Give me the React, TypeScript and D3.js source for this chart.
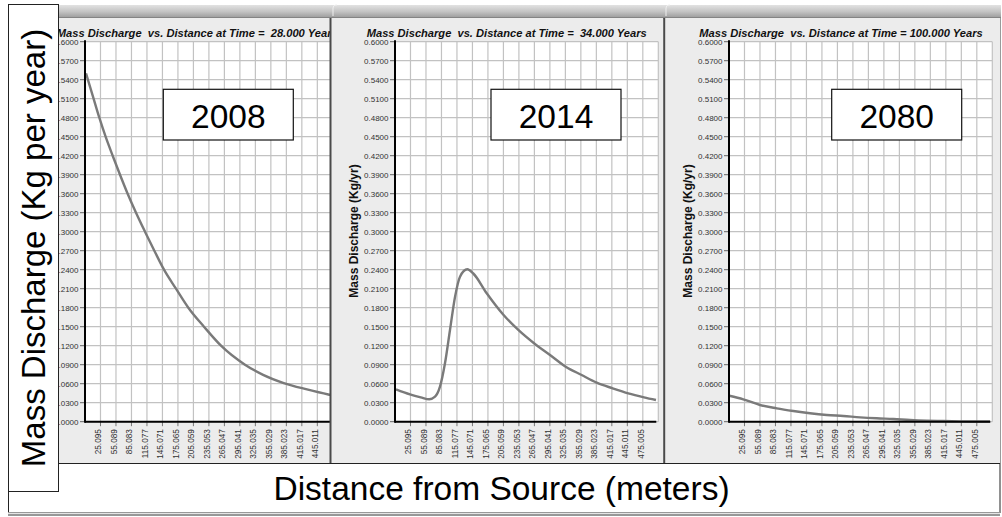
import React from "react";
import * as d3 from "d3";

// ---------- data ----------
const xTickValues = [25.095, 55.089, 85.083, 115.077, 145.071, 175.065, 205.059, 235.053, 265.047, 295.041, 325.035, 355.029, 385.023, 415.017, 445.011, 475.005];
const xTickLabels = ["25.095", "55.089", "85.083", "115.077", "145.071", "175.065", "205.059", "235.053", "265.047", "295.041", "325.035", "355.029", "385.023", "415.017", "445.011", "475.005"];
const yTickValues = [0, 0.03, 0.06, 0.09, 0.12, 0.15, 0.18, 0.21, 0.24, 0.27, 0.3, 0.33, 0.36, 0.39, 0.42, 0.45, 0.48, 0.51, 0.54, 0.57, 0.6];
const yTickLabels = ["0.0000", "0.0300", "0.0600", "0.0900", "0.1200", "0.1500", "0.1800", "0.2100", "0.2400", "0.2700", "0.3000", "0.3300", "0.3600", "0.3900", "0.4200", "0.4500", "0.4800", "0.5100", "0.5400", "0.5700", "0.6000"];

const years = ["2008", "2014", "2080"];
const panelTitles = [
  "Mass Discharge  vs. Distance at Time =  28.000 Years",
  "Mass Discharge  vs. Distance at Time =  34.000 Years",
  "Mass Discharge  vs. Distance at Time = 100.000 Years",
];
const yAxisTitle = "Mass Discharge (Kg/yr)";
const leftTitle = "Mass Discharge (Kg per year)";
const bottomTitle = "Distance from Source (meters)";

const dist2008 = [-3, 10, 22.85, 35, 48.7, 62.9, 77.7, 93.9, 111.3, 129.4, 148.1, 171.3, 195.2, 225.5, 258.5, 304.9, 340, 380, 425, 466.3, 505];
const mass2008 = [0.55, 0.515, 0.48, 0.45, 0.42, 0.39, 0.36, 0.33, 0.30, 0.27, 0.24, 0.21, 0.18, 0.15, 0.12, 0.09, 0.074, 0.061, 0.051, 0.043, 0.037];

const dist2014 = [-3, 24.1, 45, 61.5, 72.6, 82.2, 91.9, 101.6, 111.3, 121, 135.1, 146.7, 172.7, 203.7, 233.9, 264.3, 295.3, 325.7, 356.6, 385.7, 416.7, 446.9, 477.3, 500.5];
const mass2014 = [0.0511, 0.0432, 0.0385, 0.0354, 0.0395, 0.0553, 0.0922, 0.1448, 0.197, 0.229, 0.2406, 0.234, 0.2027, 0.17, 0.1448, 0.1238, 0.1053, 0.0868, 0.0737, 0.0616, 0.0527, 0.0448, 0.0385, 0.0343];

const dist2080 = [-4.3, 22.8, 55.1, 87.5, 119.6, 151.9, 184.3, 216.6, 248.9, 281.1, 313.5, 345.6, 378, 410.2, 442.5, 500.6];
const mass2080 = [0.041, 0.0353, 0.0264, 0.0211, 0.0169, 0.0133, 0.0106, 0.009, 0.0069, 0.0054, 0.0043, 0.0027, 0.0016, 0.001, 0.0005, 0.0002];

const seriesDist = [dist2008, dist2014, dist2080];
const seriesMass = [mass2008, mass2014, mass2080];

// ---------- layout ----------
const W = 1002;
const H = 517;
const FONT = "'Liberation Sans', Arial, Helvetica, sans-serif";
const plotTop = 41.7;
const plotBottom = 421.7;
const plotW = 263.3;
const xDomain: [number, number] = [-4.9, 505];
const yDomain: [number, number] = [0, 0.6];

const panels = [
  { x0: 58, x1: 330, axis: 85, titleX: 56.7, boxX: 163.3, yTitleX: 48, nLabels: 15 },
  { x0: 331, x1: 663.5, axis: 395, titleX: 366.7, boxX: 491, yTitleX: 358.2, nLabels: 16 },
  { x0: 665, x1: 1000, axis: 729, titleX: 699.3, boxX: 831.7, yTitleX: 692.2, nLabels: 16 },
];
const titleLen = [281, 280, 283.4];

function Panel({ idx }: { idx: number }) {
  const p = panels[idx];
  const x = d3.scaleLinear().domain(xDomain).range([p.axis, p.axis + plotW]);
  const y = d3.scaleLinear().domain(yDomain).range([plotBottom, plotTop]);
  const line = d3
    .line<number>()
    .x((_, i) => x(seriesDist[idx][i]))
    .y((v) => y(v))
    .curve(d3.curveMonotoneX);
  const path = line(seriesMass[idx]) || "";
  const gridX = [...xTickValues, xDomain[1]];
  return (
    <g clipPath={`url(#clipP${idx})`}>
      <rect x={p.x0} y={18} width={p.x1 - p.x0} height={445} fill="#ececec" />
      <text
        x={p.titleX}
        y={36.5}
        fontFamily={FONT}
        fontSize={11.6}
        fontWeight="bold"
        fontStyle="italic"
        fill="#111"
        textLength={titleLen[idx]}
        lengthAdjust="spacingAndGlyphs"
        style={{ whiteSpace: "pre" }}
      >
        {panelTitles[idx]}
      </text>
      <rect x={p.axis} y={plotTop} width={plotW} height={plotBottom - plotTop} fill="#ffffff" />
      {yTickValues.map((v, i) => (
        <line key={"gy" + i} x1={p.axis} x2={p.axis + plotW} y1={y(v)} y2={y(v)} stroke="#c2c2c2" strokeWidth={1.2} />
      ))}
      {gridX.map((v, i) => (
        <line key={"gx" + i} x1={x(v)} x2={x(v)} y1={plotTop} y2={plotBottom} stroke="#c2c2c2" strokeWidth={1.2} />
      ))}
      {yTickValues.map((v, i) => (
        <g key={"yt" + i}>
          <line x1={p.axis - 5} x2={p.axis} y1={y(v)} y2={y(v)} stroke="#666" strokeWidth={1} />
          <text
            x={p.axis - 6.5}
            y={y(v)}
            dy="0.35em"
            textAnchor="end"
            fontFamily={FONT}
            fontSize={8}
            fill="#333"
          >
            {yTickLabels[i]}
          </text>
        </g>
      ))}
      {xTickValues.map((v, i) => (
        <g key={"xt" + i}>
          <line x1={x(v)} x2={x(v)} y1={plotBottom} y2={plotBottom + 4.5} stroke="#777" strokeWidth={1} />
          {i < p.nLabels && (
            <text
              transform={`translate(${x(v) + 0.8},${plotBottom + 7.5}) rotate(-90)`}
              textAnchor="end"
              fontFamily={FONT}
              fontSize={8.2}
              fill="#333"
            >
              {xTickLabels[i]}
            </text>
          )}
        </g>
      ))}
      <text
        transform={`translate(${p.yTitleX},${231}) rotate(-90)`}
        textAnchor="middle"
        fontFamily={FONT}
        fontSize={12}
        fontWeight="bold"
        fill="#111"
      >
        {yAxisTitle}
      </text>
      <path d={path} fill="none" stroke="#7a7a7a" strokeWidth={2.4} strokeLinejoin="round" />
      <line x1={p.axis} x2={p.axis + plotW - 2} y1={plotBottom} y2={plotBottom} stroke="#000" strokeWidth={2} />
      <line x1={p.axis} x2={p.axis} y1={plotTop - 1.5} y2={plotBottom + 1} stroke="#000" strokeWidth={2} />
      <rect x={p.boxX} y={89.3} width={130} height={50.7} fill="#ffffff" stroke="#111" strokeWidth={1.2} />
      <text
        x={p.boxX + 65}
        y={128}
        textAnchor="middle"
        fontFamily={FONT}
        fontSize={33.5}
        fill="#000"
      >
        {years[idx]}
      </text>
    </g>
  );
}

export default function App() {
  return (
    <div style={{ position: "absolute", left: 0, top: 0, width: W, height: H, background: "#fff" }}>
      <svg width={W} height={H} style={{ display: "block" }}>
        <defs>
          <linearGradient id="barGrad" x1="0" y1="0" x2="0" y2="1">
            <stop offset="0" stopColor="#e2e2e2" />
            <stop offset="0.5" stopColor="#c4c4c4" />
            <stop offset="1" stopColor="#9a9a9a" />
          </linearGradient>
          {panels.map((p, i) => (
            <clipPath id={`clipP${i}`} key={i}>
              <rect x={p.x0} y={18} width={p.x1 - p.x0} height={445} />
            </clipPath>
          ))}
        </defs>
        <rect x={0} y={0} width={W} height={H} fill="#ffffff" />
        {/* top bar */}
        <rect x={58} y={5} width={943} height={13} fill="url(#barGrad)" />
        <line x1={58} x2={1001} y1={18} y2={18} stroke="#6a6a6a" strokeWidth={1} />
        {panels.map((_, i) => (
          <Panel idx={i} key={i} />
        ))}
        {/* separators */}
        <line x1={330.5} x2={330.5} y1={18} y2={463} stroke="#4a4a4a" strokeWidth={2} />
        <line x1={664.2} x2={664.2} y1={18} y2={463} stroke="#4a4a4a" strokeWidth={2} />
        <line x1={1000.5} x2={1000.5} y1={18} y2={463} stroke="#9a9a9a" strokeWidth={1} />
        <path d="M333,16 L333,8 Q333,5 336,5 L337,5" fill="none" stroke="#eee" strokeWidth={1} />
        <path d="M666,16 L666,8 Q666,5 669,5 L670,5" fill="none" stroke="#eee" strokeWidth={1} />
        {/* bottom title box */}
        <rect x={8.5} y={463.5} width={991.5} height={49} fill="#ffffff" stroke="#222" strokeWidth={1} />
        <line x1={8} x2={1000} y1={512.7} y2={512.7} stroke="#999" strokeWidth={1.2} />
        <line x1={8} x2={1000} y1={515} y2={515} stroke="#333" strokeWidth={1.2} />
        <text x={501.5} y={500} textAnchor="middle" fontFamily={FONT} fontSize={33.5} fill="#000">
          {bottomTitle}
        </text>
        {/* left title box */}
        <rect x={8.5} y={4.5} width={50} height={487} fill="#ffffff" stroke="#222" strokeWidth={1} />
        <text
          transform={`translate(45,248) rotate(-90)`}
          textAnchor="middle"
          fontFamily={FONT}
          fontSize={33}
          fill="#000"
        >
          {leftTitle}
        </text>
      </svg>
    </div>
  );
}
